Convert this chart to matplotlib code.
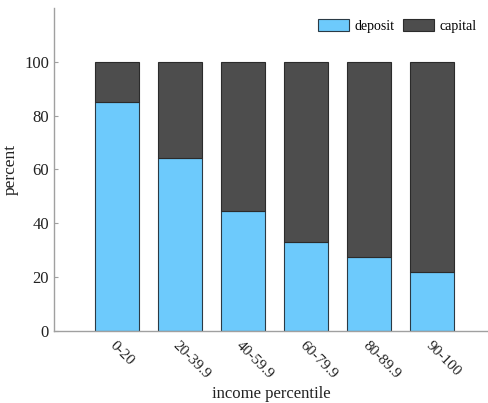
import matplotlib
matplotlib.use("Agg")
import matplotlib.pyplot as plt
import numpy as np

# -------- DATA --------
groups = ["0-20", "20-39.9", "40-59.9", "60-79.9", "80-89.9", "90-100"]
deposit = [85.2, 64.4, 44.7, 33.2, 27.6, 21.8]
capital = [100 - d for d in deposit]

plt.rcParams["font.family"] = ["Liberation Serif", "DejaVu Serif"]

fig = plt.figure(figsize=(4.89, 4.03), dpi=100)
ax = fig.add_axes([0.110, 0.179, 0.890, 0.801])

x = np.arange(1, len(groups) + 1)
ax.bar(x, deposit, width=0.7, color="#6dcafc", edgecolor="#2b3a45", linewidth=0.8,
       label="deposit", zorder=2)
ax.bar(x, capital, width=0.7, bottom=deposit, color="#4d4d4d", edgecolor="#2b2b2b",
       linewidth=0.8, label="capital", zorder=2)

ax.set_xlim(0, 6.9)
ax.set_ylim(0, 120)
ax.set_yticks([0, 20, 40, 60, 80, 100])
ax.set_xticks(x)
ax.set_xticklabels(groups, rotation=-45, ha="left", va="top", rotation_mode="anchor")

for s in ["top", "right"]:
    ax.spines[s].set_visible(False)
for s in ["left", "bottom"]:
    ax.spines[s].set_color("#a0a0a0")
    ax.spines[s].set_linewidth(1.0)

ax.tick_params(direction="in", length=3, color="#a0a0a0", labelsize=12, labelcolor="#222222")
ax.tick_params(axis="x", pad=6, labelsize=11)

ax.set_xlabel("income percentile", fontsize=12, color="#222222")
ax.xaxis.set_label_coords(0.5, -0.172)
ax.set_ylabel("percent", fontsize=12.5, color="#222222")

ax.legend(loc="upper right", ncol=2, frameon=False, fontsize=10,
          handlelength=2.2, handleheight=0.95, columnspacing=0.6, handletextpad=0.45,
          borderaxespad=0.3, bbox_to_anchor=(0.995, 0.995))

fig.savefig("out.png", dpi=100)
